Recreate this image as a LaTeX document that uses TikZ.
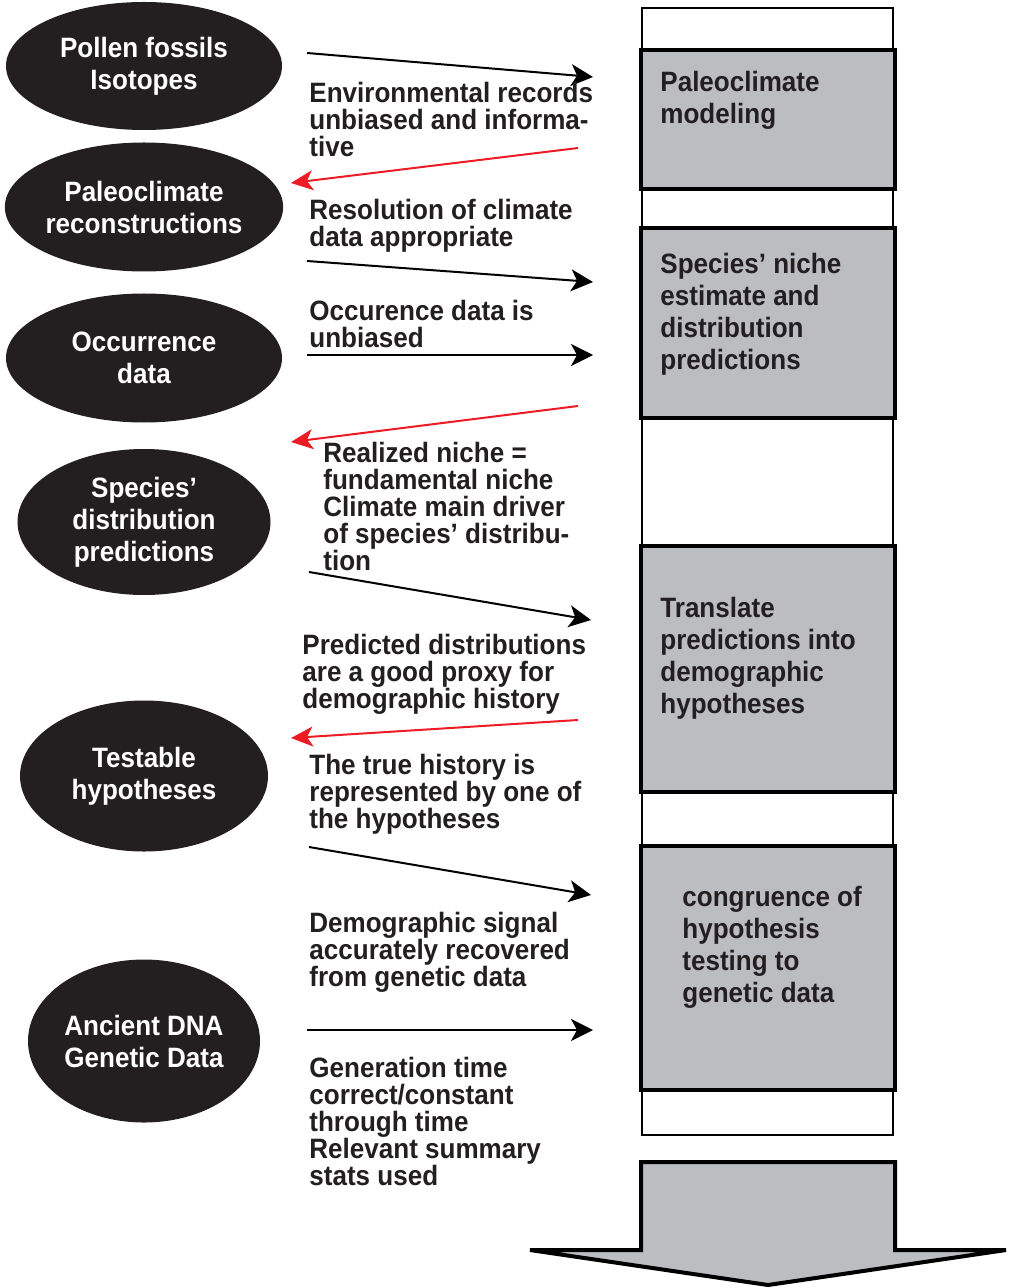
\documentclass[tikz,border=0pt]{standalone}
\usepackage{fontspec}
\setmainfont[FakeStretch=0.93]{Liberation Sans}
\usepackage{tikz}
\usetikzlibrary{shapes.geometric,arrows.meta}

\definecolor{ink}{HTML}{231F20}
\definecolor{boxgray}{HTML}{BCBDC1}
\definecolor{back}{HTML}{ED1C24}

\tikzset{
  blob/.style={ellipse,fill=ink,text=white,inner sep=0pt,align=center,
    font=\bfseries\fontsize{14}{16}\selectfont},
  stage/.style={draw=black,line width=2pt,fill=boxgray},
  stagetext/.style={anchor=north west,inner sep=0pt,align=left,text=ink,
    font=\bfseries\fontsize{14}{16}\selectfont},
  note/.style={anchor=north west,inner sep=0pt,align=left,text=ink,
    font=\bfseries\fontsize{14}{13.5}\selectfont},
  fwd/.style={line width=1pt,-{Stealth[length=11pt,width=11pt,inset=3pt]}},
  bwd/.style={back,line width=1pt,-{Stealth[length=11pt,width=10pt,inset=3pt]}}
}

\begin{document}
\begin{tikzpicture}[x=0.5pt,y=-0.5pt]
	\useasboundingbox (0,0) rectangle (1010,1288);
	% Data sources
	\node[blob,minimum width=138pt,minimum height=64pt] (pollen) at (144,66) {Pollen fossils\\Isotopes};
	\node[blob,minimum width=138pt,minimum height=64.5pt] (recon) at (144,207) {Paleoclimate\\reconstructions};
	\node[blob,minimum width=138pt,minimum height=64.5pt] (occur) at (144,358) {Occurrence\\data};
	\node[blob,minimum width=126.5pt,minimum height=73pt] (sdp) at (144,522) {Species'\\distribution\\predictions};
	\node[blob,minimum width=124pt,minimum height=75.5pt] (testable) at (144,776) {Testable\\hypotheses};
	\node[blob,minimum width=116pt,minimum height=81.5pt] (dna) at (144,1041) {Ancient DNA\\Genetic Data};
	% The column of steps
	\draw[line width=0.6pt] (642,8) rectangle (893,1135);
	\draw[stage] (641,50) rectangle (895,189);
	\draw[stage] (641,228) rectangle (895,418);
	\draw[stage] (641,546) rectangle (895,792);
	\draw[stage] (641,846) rectangle (895,1090);
	\node[stagetext] (modeling) at (660,71) {Paleoclimate\\modeling};
	\node[stagetext] (niche) at (660,253) {Species' niche\\estimate and\\distribution\\predictions};
	\node[stagetext] (translate) at (660,597) {Translate\\predictions into\\demographic\\hypotheses};
	\node[stagetext] (congruence) at (682,886) {congruence of\\hypothesis\\testing to\\genetic data};
	% Big arrow at the bottom
	\draw[line width=2pt,line join=miter,fill=boxgray] (641,1250) -- (641,1162) -- (895,1162) -- (895,1250)
		-- (1006,1250) -- (768,1285) -- (530,1250) -- cycle;
	% Arrow end points
	\coordinate (a1s) at (307,53);   \coordinate (a1e) at (593,77);
	\coordinate (r1s) at (578,148);  \coordinate (r1e) at (291,183);
	\coordinate (a2s) at (307,261);  \coordinate (a2e) at (593,282);
	\coordinate (a3s) at (307,355);  \coordinate (a3e) at (593,355);
	\coordinate (r2s) at (578,406);  \coordinate (r2e) at (291,442);
	\coordinate (a4s) at (309,572);  \coordinate (a4e) at (591,620);
	\coordinate (r3s) at (578,720);  \coordinate (r3e) at (291,738);
	\coordinate (a5s) at (309,847);  \coordinate (a5e) at (591,895);
	\coordinate (a6s) at (307,1030); \coordinate (a6e) at (593,1030);
	\draw[fwd] (a1s) -- (a1e);
	\draw[bwd] (r1s) -- (r1e);
	\draw[fwd] (a2s) -- (a2e);
	\draw[fwd] (a3s) -- (a3e);
	\draw[bwd] (r2s) -- (r2e);
	\draw[fwd] (a4s) -- (a4e);
	\draw[bwd] (r3s) -- (r3e);
	\draw[fwd] (a5s) -- (a5e);
	\draw[fwd] (a6s) -- (a6e);
	% Assumptions
	\node[note] (envrec) at (309,82) {Environmental records\\unbiased and informa-\\tive};
	\node[note] (resol) at (309,199) {Resolution of climate\\data appropriate};
	\node[note] (occbias) at (309,300) {Occurence data is\\unbiased};
	\node[note] (realized) at (323,442) {Realized niche =\\fundamental niche\\Climate main driver\\of species' distribu-\\tion};
	\node[note] (proxy) at (302,634) {Predicted distributions\\are a good proxy for\\demographic history};
	\node[note] (truehist) at (309,754) {The true history is\\represented by one of\\the hypotheses};
	\node[note] (signal) at (309,912) {Demographic signal\\accurately recovered\\from genetic data};
	\node[note] (gentime) at (309,1057) {Generation time\\correct/constant\\through time\\Relevant summary\\stats used};
\end{tikzpicture}
\end{document}
